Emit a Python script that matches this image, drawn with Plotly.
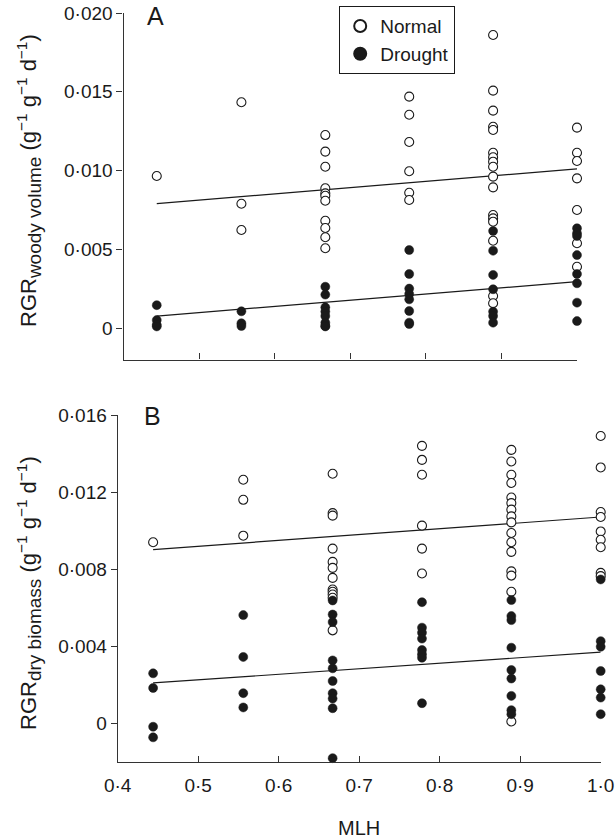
import plotly.graph_objects as go

W, H = 616, 839

# MLH levels (x categories)
mlh = [0.444, 0.556, 0.667, 0.778, 0.889, 1.0]

# Panel A: RGR woody volume
a_normal = [
    [0.00965],
    [0.01433, 0.00789, 0.00622],
    [0.01225, 0.0112, 0.01024, 0.00887, 0.00855, 0.0084, 0.00808, 0.00681, 0.00635, 0.00576, 0.00506],
    [0.01469, 0.01354, 0.01181, 0.00995, 0.00859, 0.00813],
    [0.0186, 0.01507, 0.0138, 0.01278, 0.01257, 0.01113, 0.01084, 0.01056, 0.01024, 0.00961,
     0.00893, 0.00717, 0.00696, 0.00675, 0.00554, 0.00203, 0.00157],
    [0.01272, 0.01113, 0.0106, 0.0095, 0.00749, 0.00538, 0.00389],
]
a_drought = [
    [0.00145, 0.0005, 0.0002, 0.0001],
    [0.00106, 0.0003, 0.00013],
    [0.00262, 0.00212, 0.00131, 0.00104, 0.00076, 0.00034, 0.00013, 0.0001],
    [0.00495, 0.00343, 0.0025, 0.00216, 0.00182, 0.00108, 0.00034, 0.00025],
    [0.00616, 0.00491, 0.00337, 0.00246, 0.00104, 0.00076, 0.00034],
    [0.00633, 0.00601, 0.00584, 0.00463, 0.00343, 0.00284, 0.00161, 0.00044],
]
a_fit_x = [0.444, 1.0]
a_fit_normal = [0.0079, 0.0101]
a_fit_drought = [0.00076, 0.00294]

# Panel B: RGR dry biomass
b_normal = [
    [0.0094],
    [0.01264, 0.0116, 0.00974],
    [0.01295, 0.01091, 0.01078, 0.00907, 0.00838, 0.00807, 0.00755, 0.00695, 0.00683, 0.00669, 0.00652, 0.00483],
    [0.0144, 0.01367, 0.0129, 0.01026, 0.00907, 0.00778],
    [0.01419, 0.01359, 0.0129, 0.01247, 0.01172, 0.01143, 0.01109, 0.01074, 0.01043, 0.00988,
     0.0094, 0.0089, 0.00789, 0.00767, 0.00683, 0.0001],
    [0.01491, 0.01328, 0.01097, 0.01071, 0.00996, 0.00953, 0.00914, 0.00781, 0.00764],
]
b_drought = [
    [0.0026, 0.00184, -0.00017, -0.00072],
    [0.00562, 0.00345, 0.00157, 0.00083],
    [0.00638, 0.00565, 0.00526, 0.00327, 0.00286, 0.0022, 0.00157, 0.00129, 0.00079, -0.0018],
    [0.00629, 0.00497, 0.00471, 0.0044, 0.00381, 0.00359, 0.00341, 0.00105],
    [0.0064, 0.00557, 0.00536, 0.00393, 0.00277, 0.00233, 0.00143, 0.00069, 0.00048],
    [0.00747, 0.00427, 0.00398, 0.00272, 0.00177, 0.00134, 0.00048],
]
b_fit_x = [0.444, 1.0]
b_fit_normal = [0.00902, 0.01071]
b_fit_drought = [0.0021, 0.0037]

x_ticks = [0.4, 0.5, 0.6, 0.7, 0.8, 0.9, 1.0]
x_ticktext = ["0·4", "0·5", "0·6", "0·7", "0·8", "0·9", "1·0"]
ya_ticks = [0, 0.005, 0.010, 0.015, 0.020]
ya_ticktext = ["0", "0·005", "0·010", "0·015", "0·020"]
yb_ticks = [0, 0.004, 0.008, 0.012, 0.016]
yb_ticktext = ["0", "0·004", "0·008", "0·012", "0·016"]


def flat(groups):
    xs, ys = [], []
    for xv, vals in zip(mlh, groups):
        for v in vals:
            xs.append(xv)
            ys.append(v)
    return xs, ys


FONT = "Liberation Sans, Arial, Helvetica, sans-serif"
INK = "#1a1a1a"

fig = go.Figure()


def add_panel(normal, drought, fx, fn, fd, xa, ya, legend):
    for yy in (fn, fd):
        fig.add_trace(go.Scatter(x=fx, y=yy, mode="lines", line=dict(color=INK, width=1.2),
                                 showlegend=False, xaxis=xa, yaxis=ya, hoverinfo="skip"))
    nx, ny = flat(normal)
    fig.add_trace(go.Scatter(x=nx, y=ny, mode="markers", name="Normal", showlegend=legend,
                             marker=dict(symbol="circle", size=9, color="white",
                                         line=dict(color=INK, width=1.1)),
                             cliponaxis=False, xaxis=xa, yaxis=ya))
    dx, dy = flat(drought)
    fig.add_trace(go.Scatter(x=dx, y=dy, mode="markers", name="Drought", showlegend=legend,
                             marker=dict(symbol="circle", size=9, color=INK,
                                         line=dict(color=INK, width=0.5)),
                             cliponaxis=False, xaxis=xa, yaxis=ya))


add_panel(a_normal, a_drought, a_fit_x, a_fit_normal, a_fit_drought, "x", "y", True)
add_panel(b_normal, b_drought, b_fit_x, b_fit_normal, b_fit_drought, "x2", "y2", False)

axis_common = dict(showline=True, linecolor="#333333", linewidth=1.2, showgrid=False,
                   zeroline=False, automargin=False, tickcolor="#333333", ticklen=6,
                   tickwidth=1.2, tickfont=dict(family=FONT, size=19, color=INK))

fig.update_layout(
    width=W, height=H,
    template="none",
    paper_bgcolor="white", plot_bgcolor="white",
    margin=dict(l=0, r=0, t=0, b=0),
    font=dict(family=FONT, color=INK),
    xaxis=dict(domain=[123.5 / W, 577 / W], anchor="y", range=[0.4, 1.0],
               tickvals=x_ticks, ticktext=x_ticktext, showticklabels=False, ticks="inside",
               **axis_common),
    yaxis=dict(domain=[(H - 359.5) / H, (H - 13) / H], anchor="x", range=[-0.002, 0.020],
               tickvals=ya_ticks, ticktext=ya_ticktext, ticks="outside", **axis_common),
    xaxis2=dict(domain=[117.7 / W, 600.7 / W], anchor="y2", range=[0.4, 1.0],
                tickvals=x_ticks, ticktext=x_ticktext, ticks="inside", ticklabelstandoff=6,
                **axis_common),
    yaxis2=dict(domain=[(H - 762) / H, (H - 415) / H], anchor="x2", range=[-0.002, 0.016],
                tickvals=yb_ticks, ticktext=yb_ticktext, ticks="outside", **axis_common),
    legend=dict(x=339 / W, y=1 - 6 / H, xanchor="left", yanchor="top",
                bordercolor=INK, borderwidth=1.2, bgcolor="white",
                font=dict(family=FONT, size=19, color=INK), itemsizing="constant",
                itemwidth=30, tracegroupgap=0),
    showlegend=True,
)

sub = '<span style="font-size:19px">%s</span>'
sup = '<sup>−1</sup>'
title_a = "RGR<sub>" + sub % "woody volume" + "</sub> (g" + sup + " g" + sup + " d" + sup + ")"
title_b = "RGR<sub>" + sub % "dry biomass" + "</sub> (g" + sup + " g" + sup + " d" + sup + ")"

annos = [
    dict(text="A", x=155 / W, y=1 - 16 / H, font=dict(size=25)),
    dict(text="B", x=152 / W, y=1 - 416 / H, font=dict(size=25)),
    dict(text="MLH", x=359 / W, y=1 - 828 / H, font=dict(size=20)),
    dict(text=title_a, x=29 / W, y=1 - 181 / H, textangle=-90, font=dict(size=22)),
    dict(text=title_b, x=29 / W, y=1 - 593 / H, textangle=-90, font=dict(size=22)),
]
for a in annos:
    a.update(xref="paper", yref="paper", showarrow=False, xanchor="center", yanchor="middle")
    a["font"].update(family=FONT, color=INK)
    fig.add_annotation(**a)

fig.write_html("out.html", config={"displayModeBar": False},
               post_script="document.body.style.margin='0';")
